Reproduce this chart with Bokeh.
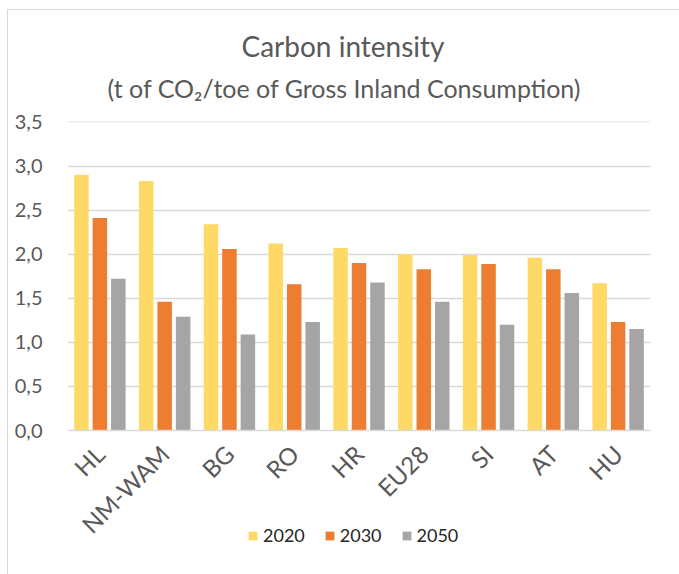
from bokeh.plotting import figure
from bokeh.layouts import column
from bokeh.models import ColumnDataSource, FixedTicker, Legend, LegendItem, Title, Range1d
from bokeh.transform import dodge
from bokeh.embed import file_html
from bokeh.resources import INLINE
import math

categories = ["HL", "NM-WAM", "BG", "RO", "HR", "EU28", "SI", "AT", "HU"]
series_names = ["2020", "2030", "2050"]
v2020 = [2.90, 2.83, 2.34, 2.12, 2.07, 2.00, 1.99, 1.96, 1.67]
v2030 = [2.41, 1.46, 2.06, 1.66, 1.90, 1.83, 1.89, 1.83, 1.23]
v2050 = [1.72, 1.29, 1.09, 1.23, 1.68, 1.46, 1.20, 1.56, 1.15]
y_ticks = [0.0, 0.5, 1.0, 1.5, 2.0, 2.5, 3.0, 3.5]
y_tick_labels = ["0,0", "0,5", "1,0", "1,5", "2,0", "2,5", "3,0", "3,5"]

colors = ["#FFD966", "#ED7D31", "#A5A5A5"]
offsets = [-0.285, 0.0, 0.285]
FONT = "Lato"

src = ColumnDataSource(dict(cat=categories, v2020=v2020, v2030=v2030, v2050=v2050))

p = figure(x_range=categories, y_range=Range1d(0, 3.505), width=671, height=545,
           output_backend="svg", toolbar_location=None,
           min_border_left=59, min_border_right=29, min_border_top=111, min_border_bottom=125)
p.outline_line_color = None
p.background_fill_color = "white"
p.border_fill_color = "white"

for name, col, off in zip(series_names, colors, offsets):
    p.vbar(x=dodge("cat", off, range=p.x_range), top="v" + name, width=0.224,
           source=src, fill_color=col, line_color=None)

# axes
p.yaxis.ticker = FixedTicker(ticks=y_ticks)
p.yaxis.major_label_overrides = {t: l for t, l in zip(y_ticks, y_tick_labels)}
p.yaxis.axis_line_color = None
p.yaxis.major_tick_line_color = None
p.yaxis.minor_tick_line_color = None
p.yaxis.major_label_standoff = 19
p.yaxis.major_label_text_font = FONT
p.yaxis.major_label_text_font_size = "20px"
p.yaxis.major_label_text_color = "#595959"

p.xaxis.axis_line_color = "#D9D9D9"
p.xaxis.axis_line_width = 1.5
p.xaxis.major_tick_line_color = None
p.xaxis.minor_tick_line_color = None
p.xaxis.major_label_orientation = math.pi / 4
p.xaxis.major_label_standoff = 13
p.xaxis.major_label_text_font = FONT
p.xaxis.major_label_text_font_size = "24px"
p.xaxis.major_label_text_color = "#595959"

p.xgrid.grid_line_color = None
p.ygrid.grid_line_color = "#D9D9D9"
p.ygrid.grid_line_width = 1.5

# titles
p.title.visible = False
sub = Title(text="(t of CO\u2082/toe of Gross Inland Consumption)", align="left",
            text_font=FONT, text_font_size="25px", text_font_style="normal",
            text_color="#595959", offset=40, standoff=37)
main = Title(text="Carbon intensity", align="left",
             text_font=FONT, text_font_size="28px", text_font_style="normal",
             text_color="#595959", offset=174, standoff=-20)
p.add_layout(sub, "above")
p.add_layout(main, "above")

# legend in its own strip below the chart
leg = figure(x_range=categories, y_range=(10, 11), width=671, height=54,
             output_backend="svg", toolbar_location=None,
             x_axis_type=None, y_axis_type=None,
             min_border_left=0, min_border_right=0, min_border_top=0, min_border_bottom=0)
leg.outline_line_color = None
leg.grid.visible = False
leg.background_fill_alpha = 0
leg.border_fill_alpha = 0
items = []
for name, col, off in zip(series_names, colors, offsets):
    r = leg.vbar(x=dodge("cat", off, range=leg.x_range), top="v" + name, width=0.224,
                 source=src, fill_color=col, line_color=None, visible=False)
    items.append(LegendItem(label=name, renderers=[r]))
legend = Legend(items=items, orientation="horizontal", location=(180, 28),
                glyph_width=11, glyph_height=11, label_standoff=5, spacing=19,
                padding=0, margin=0, border_line_color=None, background_fill_alpha=0,
                inactive_fill_alpha=0,
                label_text_font=FONT, label_text_font_size="18px", label_text_color="#262626")
leg.add_layout(legend, "center")
leg.styles = {"margin-top": "-35px"}

layout = column(p, leg, spacing=0,
                styles={"margin-left": "7px", "margin-top": "9px",
                        "border-left": "1px solid #D9D9D9", "border-top": "1px solid #D9D9D9"})

open("out.html", "w").write(file_html(layout, INLINE))
